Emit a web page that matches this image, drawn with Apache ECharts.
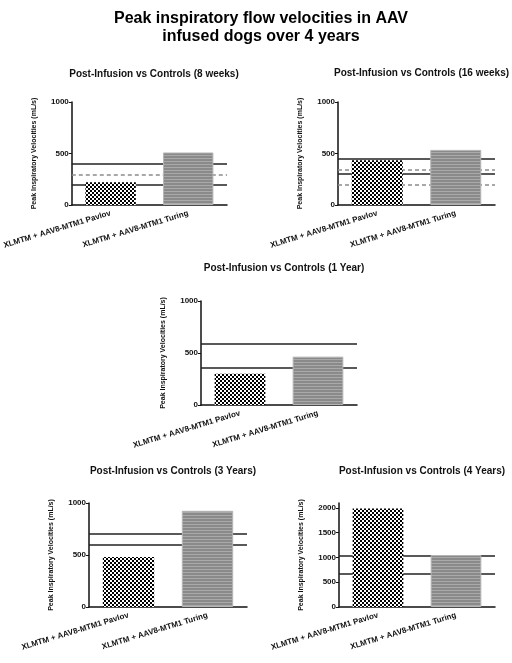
<!DOCTYPE html>
<html><head><meta charset="utf-8">
<script src="https://cdn.jsdelivr.net/npm/echarts@6/dist/echarts.min.js"></script>
<style>html,body{margin:0;padding:0;background:#fff}#c{width:512px;height:663px}</style>
</head><body><div id="c"></div>
<script>
const mainTitle = 'Peak inspiratory flow velocities in AAV\ninfused dogs over 4 years';
const categories = ['XLMTM + AAV8-MTM1 Pavlov', 'XLMTM + AAV8-MTM1 Turing'];
const panelTitles = [
  'Post-Infusion vs Controls (8 weeks)',
  'Post-Infusion vs Controls (16 weeks)',
  'Post-Infusion vs Controls (1 Year)',
  'Post-Infusion vs Controls (3 Years)',
  'Post-Infusion vs Controls (4 Years)'
];
const yAxisName = 'Peak Inspiratory Velocities (mL/s)';
const pavlov = [220, 435, 300, 480, 1990];
const turing = [510, 535, 465, 925, 1050];
const solidRefs = [[400, 195], [450, 305], [590, 360], [700, 595], [1040, 680]];
const dashedRefs = [[290], [340, 200], [], [], []];
const yMax = [1000, 1000, 1000, 1000, 2100];
const yTicks = [
  [0, 500, 1000], [0, 500, 1000], [0, 500, 1000], [0, 500, 1000],
  [0, 500, 1000, 1500, 2000]
];

// layout (pixels)
const grids = [
  {left: 71, top: 102, width: 156, height: 103},
  {left: 338, top: 102, width: 157, height: 103},
  {left: 201, top: 301, width: 156, height: 104},
  {left: 89, top: 503, width: 158, height: 104},
  {left: 339, top: 503, width: 156, height: 104}
];
const titleTops = [64, 63, 258, 461, 461];

function checker() {
  const c = document.createElement('canvas');
  c.width = 4; c.height = 4;
  const g = c.getContext('2d');
  g.fillStyle = '#fff'; g.fillRect(0, 0, 4, 4);
  g.fillStyle = '#000';
  g.fillRect(0, 0, 2, 2); g.fillRect(2, 2, 2, 2);
  return c;
}
function stripes() {
  const c = document.createElement('canvas');
  c.width = 4; c.height = 3;
  const g = c.getContext('2d');
  g.fillStyle = '#8a8a8a'; g.fillRect(0, 0, 4, 3);
  g.fillStyle = '#a9a9a9'; g.fillRect(0, 2, 4, 1);
  return c;
}
const checkPat = {image: checker(), repeat: 'repeat'};
const stripePat = {image: stripes(), repeat: 'repeat'};

const font = 'Liberation Sans, Arial, sans-serif';
const option = {
  backgroundColor: '#fff',
  animation: false,
  title: [{
    text: mainTitle, left: 256, top: 5, textAlign: 'center',
    textStyle: {fontFamily: font, fontSize: 16, fontWeight: 'bold', color: '#000', lineHeight: 18}
  }].concat(panelTitles.map((t, i) => ({
    text: t, left: grids[i].left + grids[i].width / 2, top: titleTops[i], textAlign: 'center',
    textStyle: {fontFamily: font, fontSize: 10, fontWeight: 'bold', color: '#111'}
  }))),
  grid: grids.map(g => Object.assign({containLabel: false}, g)),
  xAxis: grids.map((g, i) => ({
    type: 'category', gridIndex: i, data: categories,
    axisLine: {lineStyle: {color: '#111', width: 1.5}},
    axisTick: {alignWithLabel: true, length: 3, lineStyle: {color: '#111', width: 1}},
    axisLabel: {rotate: 17, margin: 8, fontFamily: font, fontSize: 8, fontWeight: 'bold', color: '#111', interval: 0}
  })),
  yAxis: grids.map((g, i) => ({
    type: 'value', gridIndex: i, min: 0, max: yMax[i], interval: 500,
    name: yAxisName, nameLocation: 'middle', nameGap: 34,
    nameTextStyle: {fontFamily: font, fontSize: 7, fontWeight: 'bold', color: '#111'},
    splitLine: {show: false},
    axisLine: {show: true, lineStyle: {color: '#111', width: 1.5}},
    axisTick: {show: true, length: 3, lineStyle: {color: '#111', width: 1}, customValues: yTicks[i]},
    axisLabel: {margin: 3, fontFamily: font, fontSize: 8, fontWeight: 'bold', color: '#111',
      customValues: yTicks[i], formatter: v => String(v)}
  })),
  series: []
};

grids.forEach((g, i) => {
  const lines = solidRefs[i].map(v => ({yAxis: v, lineStyle: {color: '#222', width: 1.5, type: 'solid'}}))
    .concat(dashedRefs[i].map(v => ({yAxis: v, lineStyle: {color: '#8c8c8c', width: 1.5, type: [4, 3]}})));
  option.series.push({
    type: 'line', xAxisIndex: i, yAxisIndex: i, data: ['-', '-'], z: 1, silent: true,
    markLine: {z: 1, symbol: 'none', silent: true, label: {show: false}, data: lines}
  });
  option.series.push({
    type: 'bar', xAxisIndex: i, yAxisIndex: i, z: 3, barWidth: '65%',
    data: [
      {value: pavlov[i], itemStyle: {color: checkPat}},
      {value: turing[i], itemStyle: {color: stripePat, borderColor: '#b5b5b5', borderWidth: 1}}
    ]
  });
});

const chart = echarts.init(document.getElementById('c'), null, {renderer: 'canvas'});
chart.setOption(option);
</script>
</body></html>
